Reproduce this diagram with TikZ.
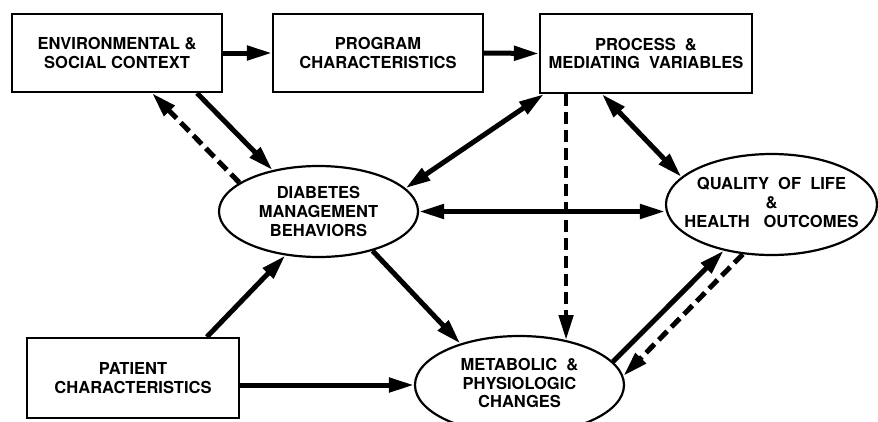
\documentclass[tikz,border=0pt]{standalone}
\usepackage{fontspec}
\setmainfont{TeX Gyre Heros}
\usetikzlibrary{arrows.meta,shapes.geometric}
\begin{document}
\begin{tikzpicture}[x=1pt,y=-1pt,
  lbl/.style={font=\bfseries\fontsize{16.5}{18.8}\selectfont, align=center, inner sep=0pt},
  boxnode/.style={draw, line width=2.2pt, rectangle, inner sep=0pt},
  oval/.style={draw, line width=2.2pt, ellipse, inner sep=0pt},
  conn/.style={line width=5pt, -{Triangle[length=25pt,width=14pt]}},
  biconn/.style={line width=5pt, {Triangle[length=25pt,width=14pt]}-{Triangle[length=25pt,width=14pt]}},
  dconn/.style={conn, dash pattern=on 12pt off 6pt}
]
\fill[white] (0,0) rectangle (878,421);
\clip (0,0) rectangle (878,421);
\useasboundingbox (0,0) rectangle (878,421);

% boxes
\node[boxnode, minimum width=210pt, minimum height=78pt] (env) at (117,53) {};
\node[lbl] (envt) at (env) {ENVIRONMENTAL \&\\SOCIAL CONTEXT};
\node[boxnode, minimum width=210pt, minimum height=78pt] (prog) at (378,53) {};
\node[lbl] (progt) at (prog) {PROGRAM\\CHARACTERISTICS};
\node[boxnode, minimum width=212pt, minimum height=79pt] (proc) at (646,53.5) {};
\node[lbl] (proct) at (proc) {PROCESS\ \ \&\\MEDIATING\ \ VARIABLES};
\node[boxnode, minimum width=212pt, minimum height=80pt] (pat) at (133,378) {};
\node[lbl] (patt) at (pat) {PATIENT\\CHARACTERISTICS};

% ellipses
\node[oval, minimum width=199pt, minimum height=91pt] (dmb) at (318.5,211.5) {};
\node[lbl] (dmbt) at (dmb) {DIABETES\\MANAGEMENT\\BEHAVIORS};
\node[oval, minimum width=211pt, minimum height=101pt] (qol) at (771.5,204.5) {};
\node[lbl] (qolt) at ([yshift=2pt]qol.center) {QUALITY\ \ OF\ \ LIFE\\\&\\HEALTH\ \ \ OUTCOMES};
\node[oval, minimum width=209pt, minimum height=98pt] (met) at (519.5,385) {};
\node[lbl] (mett) at ([yshift=2pt]met.center) {METABOLIC\ \ \&\\PHYSIOLOGIC\\CHANGES};

% connectors
\draw[conn] (env.east) -- (prog.west);
\draw[conn] (prog.east) -- (proc.west);
\draw[conn] ([xshift=80pt]env.south) -- (dmb.138);
\draw[dconn] (dmb.160.7) -- ([xshift=35pt]env.south);
\draw[biconn] ([xshift=5pt]proc.south west) -- (dmb.15.8);
\draw[dconn, line width=4.5pt] (proc.south -| met.44) -- (met.44);
\draw[biconn] ([xshift=63pt]proc.south west) -- (qol.163.8);
\draw[biconn] (dmb.east) -- (dmb.east -| qol.west);
\draw[conn] ([xshift=181pt]pat.north west) -- (dmb.-127);
\draw[conn] (dmb.-36.7) -- (met.145);
\draw[conn] (pat.east |- met.west) -- (met.west);
\draw[conn] (met.14.6) -- (qol.-136.2);
\draw[dconn] (qol.-120.3) -- (met.5.5);
\end{tikzpicture}
\end{document}
